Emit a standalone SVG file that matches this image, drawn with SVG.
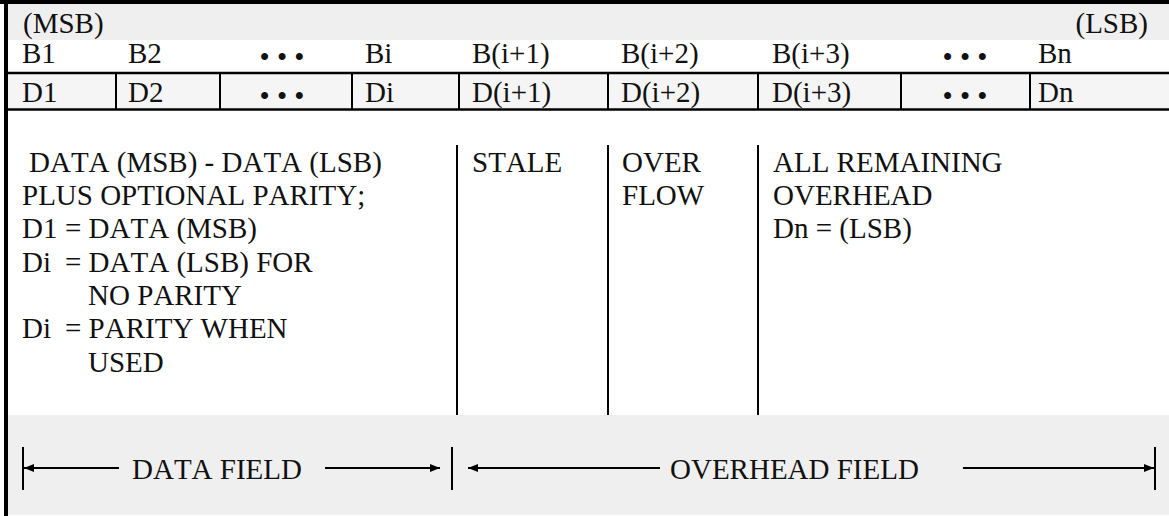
<svg xmlns="http://www.w3.org/2000/svg" width="1169" height="516" viewBox="0 0 1169 516" font-family="'Liberation Serif', 'Times New Roman', serif">
<defs>
<marker id="ah" markerUnits="userSpaceOnUse" markerWidth="10" markerHeight="8" refX="10" refY="4" orient="auto">
<path d="M0,0 L10,4 L0,8 z" fill="#000"/>
</marker>
</defs>
<style>
text{font-family:'Liberation Serif','Times New Roman',serif;font-size:29px;fill:#111;font-kerning:none;font-feature-settings:"kern" 0}
.dots{text-anchor:middle}
.rule{stroke:#000;stroke-width:2.5}
.div{stroke:#000;stroke-width:2}
.arr{stroke:#000;stroke-width:2;fill:none}
</style>
<rect x="0" y="0" width="1169" height="516" fill="#fff"/>
<g id="header-row">
<rect x="8" y="4" width="1161" height="36" fill="#efefef"/>
<text x="23" y="33">(MSB)</text>
<text x="1148" y="33" text-anchor="end">(LSB)</text>
</g>
<g id="bit-row">
<text x="22" y="63">B1</text>
<text x="128" y="63">B2</text>
<text x="282" y="67" class="dots">• • •</text>
<text x="365" y="63">Bi</text>
<text x="472" y="63">B(i+1)</text>
<text x="621" y="63">B(i+2)</text>
<text x="772" y="63">B(i+3)</text>
<text x="965" y="67" class="dots">• • •</text>
<text x="1038" y="63">Bn</text>
</g>
<g id="data-row">
<rect x="8" y="74" width="1161" height="35" fill="#f5f5f5"/>
<line class="div" x1="116" y1="74" x2="116" y2="109"/>
<line class="div" x1="220" y1="74" x2="220" y2="109"/>
<line class="div" x1="352" y1="74" x2="352" y2="109"/>
<line class="div" x1="459" y1="74" x2="459" y2="109"/>
<line class="div" x1="608" y1="74" x2="608" y2="109"/>
<line class="div" x1="758" y1="74" x2="758" y2="109"/>
<line class="div" x1="901" y1="74" x2="901" y2="109"/>
<line class="div" x1="1030" y1="74" x2="1030" y2="109"/>
<text x="22" y="102">D1</text>
<text x="128" y="102">D2</text>
<text x="282" y="106" class="dots">• • •</text>
<text x="365" y="102">Di</text>
<text x="472" y="102">D(i+1)</text>
<text x="621" y="102">D(i+2)</text>
<text x="772" y="102">D(i+3)</text>
<text x="965" y="106" class="dots">• • •</text>
<text x="1038" y="102">Dn</text>
</g>
<g id="rules">
<line class="rule" x1="8" y1="73" x2="1169" y2="73"/>
<line class="rule" x1="8" y1="109.5" x2="1169" y2="109.5"/>
</g>
<g id="data-desc">
<text x="29" y="172">DATA (MSB) - DATA (LSB)</text>
<text x="22" y="205">PLUS OPTIONAL PARITY;</text>
<text y="238"><tspan x="22">D1</tspan><tspan x="65">= DATA (MSB)</tspan></text>
<text y="272"><tspan x="22">Di</tspan><tspan x="65">= DATA (LSB) FOR</tspan></text>
<text x="88" y="305">NO PARITY</text>
<text y="338"><tspan x="22">Di</tspan><tspan x="65">= PARITY WHEN</tspan></text>
<text x="88" y="372">USED</text>
</g>
<g id="stale-desc">
<line class="div" x1="457" y1="145" x2="457" y2="415"/>
<text x="472" y="172">STALE</text>
</g>
<g id="overflow-desc">
<line class="div" x1="608" y1="145" x2="608" y2="415"/>
<text x="622" y="172">OVER</text>
<text x="622" y="205">FLOW</text>
</g>
<g id="overhead-desc">
<line class="div" x1="758" y1="145" x2="758" y2="415"/>
<text x="773" y="172">ALL REMAINING</text>
<text x="773" y="205">OVERHEAD</text>
<text x="773" y="238">Dn = (LSB)</text>
</g>
<g id="field-band">
<rect x="8" y="415" width="1161" height="100" fill="#efefef"/>
<text x="132" y="479">DATA FIELD</text>
<text x="670" y="479">OVERHEAD FIELD</text>
</g>
<g id="connectors">
<line class="div" x1="23" y1="447" x2="23" y2="490"/>
<line class="div" x1="452" y1="447" x2="452" y2="490"/>
<line class="div" x1="1155" y1="447" x2="1155" y2="490"/>
<line class="arr" x1="119" y1="468" x2="24" y2="468" marker-end="url(#ah)"/>
<line class="arr" x1="325" y1="468" x2="440" y2="468" marker-end="url(#ah)"/>
<line class="arr" x1="660" y1="468" x2="468" y2="468" marker-end="url(#ah)"/>
<line class="arr" x1="963" y1="468" x2="1154" y2="468" marker-end="url(#ah)"/>
</g>
<g id="frame">
<rect x="0" y="0" width="1169" height="4" fill="#000"/>
<rect x="4" y="0" width="4" height="516" fill="#000"/>
</g>
</svg>
